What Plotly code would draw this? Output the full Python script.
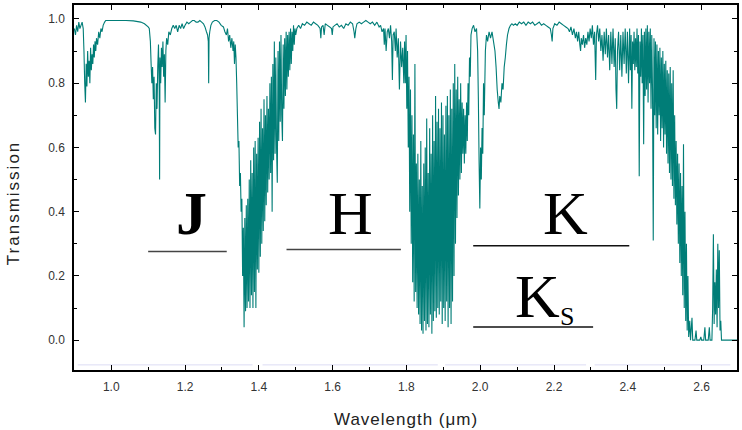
import plotly.graph_objects as go

# ---------------- data ----------------
# atmospheric transmission: (wavelength in micron, transmission) per spectral region
seg_093 = [(0.900,0.97),(0.903,0.95),(0.906,0.98),(0.909,0.96),(0.912,0.99),(0.915,0.97),(0.918,0.98),
           (0.921,0.99),(0.924,0.97),(0.926,0.90),(0.928,0.80),(0.930,0.74),(0.932,0.86),(0.934,0.79),
           (0.936,0.90),(0.938,0.82),(0.940,0.87),(0.942,0.80),(0.944,0.91),(0.946,0.84),(0.948,0.89),
           (0.950,0.86),(0.952,0.92),(0.954,0.88),(0.956,0.93),(0.958,0.90),(0.960,0.94),(0.963,0.92),
           (0.966,0.96),(0.969,0.94),(0.972,0.97),(0.975,0.96),(0.978,0.98),(0.982,0.99),(0.985,0.995)]

seg_y = [(0.990,0.995),(1.000,0.995),(1.020,0.995),(1.040,0.995),(1.060,0.994),(1.080,0.99),
         (1.090,0.985),(1.100,0.975)]

seg_113 = [(1.103,0.97),(1.106,0.93),(1.108,0.86),(1.110,0.80),(1.112,0.85),(1.114,0.75),(1.116,0.82),
           (1.118,0.66),(1.120,0.64),(1.122,0.80),(1.124,0.72),(1.126,0.85),(1.128,0.92),(1.130,0.78),
           (1.131,0.50),(1.132,0.88),(1.134,0.80),(1.136,0.91),(1.138,0.85),(1.140,0.93),(1.142,0.82),
           (1.144,0.89),(1.146,0.74),(1.148,0.90),(1.150,0.94),(1.153,0.92),(1.156,0.96),(1.160,0.95),
           (1.164,0.97),(1.168,0.98)]

seg_j = [(1.172,0.97),(1.176,0.98),(1.180,0.96),(1.184,0.98),(1.188,0.97),(1.192,0.985),(1.196,0.97),
         (1.200,0.98),(1.205,0.99),(1.210,0.985),(1.215,0.99),(1.220,0.995),(1.225,0.995),(1.230,0.99),
         (1.235,0.99),(1.240,0.995),(1.245,0.99),(1.250,0.985),(1.254,0.975),(1.258,0.96),(1.261,0.95),
         (1.263,0.93),(1.264,0.80),(1.265,0.94),(1.267,0.96),(1.270,0.98),(1.274,0.99),(1.280,0.995),
         (1.286,0.995),(1.292,0.99),(1.298,0.98),(1.304,0.975),(1.308,0.96),(1.312,0.95),(1.315,0.97),
         (1.318,0.93),(1.321,0.95),(1.324,0.91),(1.327,0.94),(1.330,0.90),(1.332,0.93),(1.334,0.86),
         (1.336,0.92),(1.338,0.88),(1.340,0.80)]

seg_14 = [(1.342,0.70),(1.344,0.60),(1.346,0.62),(1.348,0.48),(1.350,0.52),(1.352,0.40),(1.354,0.44),
          (1.356,0.20),(1.358,0.35),(1.360,0.04),(1.362,0.38),(1.364,0.09),(1.366,0.42),(1.368,0.10),
          (1.370,0.44),(1.372,0.12),(1.374,0.50),(1.376,0.10),(1.378,0.56),(1.380,0.14),(1.382,0.52),
          (1.384,0.10),(1.386,0.60),(1.388,0.15),(1.390,0.62),(1.392,0.10),(1.394,0.58),(1.396,0.22),
          (1.398,0.63),(1.400,0.21),(1.402,0.68),(1.404,0.26),(1.406,0.72),(1.408,0.30),(1.410,0.66),
          (1.412,0.34),(1.414,0.75),(1.416,0.37),(1.418,0.70),(1.420,0.42),(1.422,0.76),(1.424,0.46),
          (1.426,0.72),(1.428,0.50),(1.430,0.80),(1.432,0.52),(1.434,0.82),(1.436,0.40),(1.438,0.86),
          (1.440,0.56),(1.442,0.93),(1.444,0.58),(1.446,0.88),(1.448,0.60),(1.450,0.49),(1.452,0.90),
          (1.454,0.62),(1.456,0.93),(1.458,0.68),(1.460,0.95),(1.462,0.70),(1.464,0.62),(1.466,0.92),
          (1.468,0.72),(1.470,0.94),(1.472,0.76),(1.474,0.96),(1.476,0.78),(1.478,0.95),(1.480,0.82),
          (1.482,0.96),(1.484,0.84),(1.486,0.97),(1.488,0.86),(1.490,0.96),(1.492,0.90),(1.494,0.98),
          (1.496,0.92),(1.498,0.97),(1.500,0.95)]

seg_h = [(1.503,0.97),(1.508,0.98),(1.513,0.97),(1.518,0.985),(1.524,0.98),(1.530,0.99),(1.536,0.985),
         (1.542,0.98),(1.548,0.99),(1.554,0.985),(1.560,0.98),(1.566,0.97),(1.568,0.94),(1.570,0.975),
         (1.574,0.98),(1.577,0.95),(1.580,0.985),(1.586,0.98),(1.592,0.975),(1.597,0.97),(1.599,0.95),
         (1.601,0.975),(1.606,0.98),(1.612,0.985),(1.618,0.975),(1.624,0.98),(1.630,0.97),(1.636,0.985),
         (1.642,0.98),(1.648,0.99),(1.654,0.985),(1.658,0.96),(1.660,0.94),(1.663,0.97),(1.666,0.985),
         (1.672,0.99),(1.678,0.985),(1.684,0.99),(1.690,0.995),(1.696,0.99),(1.702,0.985),(1.708,0.99),
         (1.714,0.98),(1.720,0.99),(1.726,0.975),(1.730,0.98),(1.734,0.96),(1.738,0.97),(1.740,0.92),
         (1.742,0.97),(1.745,0.90),(1.748,0.96),(1.751,0.97),(1.754,0.94),(1.757,0.98),(1.760,0.93),
         (1.762,0.81),(1.764,0.95),(1.767,0.96),(1.770,0.90),(1.772,0.97),(1.775,0.88),(1.778,0.94),
         (1.781,0.78),(1.784,0.93),(1.787,0.85),(1.790,0.91),(1.793,0.80)]

seg_185 = [(1.795,0.93),(1.797,0.80),(1.799,0.95),(1.801,0.72),(1.803,0.90),(1.805,0.60),(1.807,0.82),
           (1.809,0.40),(1.811,0.78),(1.813,0.30),(1.815,0.70),(1.817,0.18),(1.819,0.64),(1.821,0.12),
           (1.823,0.86),(1.825,0.15),(1.827,0.55),(1.829,0.10),(1.831,0.58),(1.833,0.08),(1.835,0.50),
           (1.837,0.05),(1.839,0.62),(1.841,0.03),(1.843,0.48),(1.845,0.02),(1.847,0.55),(1.849,0.06),
           (1.851,0.60),(1.853,0.03),(1.855,0.69),(1.857,0.05),(1.859,0.52),(1.861,0.04),(1.863,0.66),
           (1.865,0.08),(1.867,0.58),(1.869,0.02),(1.871,0.70),(1.873,0.06),(1.875,0.62),(1.877,0.09),
           (1.879,0.76),(1.881,0.07),(1.883,0.68),(1.885,0.10),(1.887,0.72),(1.889,0.08),(1.891,0.66),
           (1.893,0.12),(1.895,0.74),(1.897,0.05),(1.899,0.70),(1.901,0.10),(1.903,0.64),(1.905,0.06),
           (1.907,0.73),(1.909,0.12),(1.911,0.76),(1.913,0.04),(1.915,0.70),(1.917,0.10),(1.919,0.78),
           (1.921,0.05),(1.923,0.72),(1.925,0.12),(1.927,0.80),(1.929,0.20),(1.931,0.86),(1.933,0.30),
           (1.935,0.78),(1.937,0.38),(1.939,0.82),(1.941,0.45),(1.943,0.75),(1.945,0.50),(1.947,0.80),
           (1.949,0.52),(1.951,0.74),(1.953,0.58),(1.955,0.72),(1.957,0.55),(1.959,0.70),(1.961,0.58),
           (1.963,0.74),(1.965,0.62),(1.967,0.80),(1.969,0.70),(1.971,0.88),(1.973,0.82),(1.975,0.95)]

seg_20 = [(1.978,0.97),(1.982,0.98),(1.986,0.96),(1.990,0.97),(1.993,0.90),(1.995,0.75),(1.997,0.55),
          (1.999,0.41),(2.001,0.60),(2.003,0.50),(2.005,0.66),(2.007,0.58),(2.009,0.80),(2.011,0.70),
          (2.014,0.90),(2.017,0.95),(2.020,0.93),(2.024,0.96),(2.028,0.94),(2.032,0.96),(2.036,0.93),
          (2.040,0.90),(2.043,0.85),(2.046,0.78),(2.049,0.74),(2.051,0.72),(2.053,0.76),(2.056,0.74),
          (2.059,0.80),(2.062,0.78),(2.065,0.85),(2.068,0.88),(2.071,0.92),(2.074,0.95),(2.078,0.97),
          (2.082,0.98),(2.086,0.985),(2.090,0.98)]

seg_k = [(2.095,0.985),(2.100,0.98),(2.106,0.99),(2.112,0.985),(2.118,0.99),(2.124,0.98),(2.130,0.99),
         (2.136,0.985),(2.142,0.99),(2.148,0.98),(2.154,0.985),(2.160,0.99),(2.166,0.98),(2.172,0.985),
         (2.178,0.98),(2.184,0.975),(2.190,0.97),(2.193,0.95),(2.195,0.93),(2.197,0.97),(2.202,0.985),
         (2.208,0.98),(2.214,0.99),(2.220,0.985),(2.226,0.98),(2.232,0.975),(2.238,0.97),(2.242,0.96),
         (2.246,0.975),(2.250,0.95),(2.254,0.97),(2.258,0.94),(2.261,0.96),(2.264,0.93),(2.267,0.96),
         (2.270,0.92),(2.272,0.90),(2.274,0.94),(2.277,0.92),(2.280,0.95),(2.283,0.91),(2.286,0.94),
         (2.289,0.92),(2.292,0.96),(2.295,0.93),(2.298,0.97),(2.301,0.94),(2.304,0.98),(2.307,0.92),
         (2.310,0.96),(2.313,0.81),(2.315,0.95),(2.318,0.98),(2.321,0.93),(2.324,0.97),(2.327,0.90),
         (2.330,0.95),(2.333,0.87),(2.336,0.96),(2.339,0.89),(2.342,0.97),(2.345,0.88),(2.348,0.95),
         (2.351,0.84),(2.354,0.96),(2.357,0.86),(2.360,0.97),(2.363,0.85),(2.366,0.94),(2.368,0.78),
         (2.370,0.72),(2.372,0.90),(2.375,0.96),(2.378,0.84),(2.381,0.95),(2.384,0.82),(2.387,0.96),
         (2.390,0.86),(2.393,0.97),(2.396,0.83),(2.399,0.96),(2.402,0.80),(2.405,0.97)]

seg_25 = [(2.407,0.84),(2.409,0.95),(2.411,0.72),(2.413,0.93),(2.415,0.86),(2.417,0.96),(2.419,0.84),
          (2.421,0.94),(2.423,0.85),(2.425,0.97),(2.427,0.83),(2.429,0.95),(2.431,0.51),(2.433,0.93),
          (2.435,0.82),(2.437,0.97),(2.439,0.80),(2.441,0.95),(2.443,0.61),(2.445,0.96),(2.447,0.76),
          (2.449,0.97),(2.451,0.78),(2.453,0.98),(2.455,0.74),(2.457,0.96),(2.459,0.80),(2.461,0.97),
          (2.463,0.72),(2.465,0.95),(2.467,0.78),(2.469,0.31),(2.471,0.94),(2.473,0.70),(2.475,0.93),
          (2.477,0.66),(2.479,0.92),(2.481,0.64),(2.483,0.90),(2.485,0.70),(2.487,0.91),(2.489,0.62),
          (2.491,0.88),(2.493,0.66),(2.495,0.90),(2.497,0.60),(2.499,0.86),(2.501,0.64),(2.503,0.87),
          (2.505,0.58),(2.507,0.84),(2.509,0.55),(2.511,0.83),(2.513,0.52),(2.515,0.85),(2.517,0.50),
          (2.519,0.80),(2.521,0.48),(2.523,0.84),(2.525,0.44),(2.527,0.70),(2.529,0.42),(2.531,0.62),
          (2.533,0.36),(2.535,0.58),(2.537,0.30),(2.539,0.55),(2.541,0.24),(2.543,0.52),(2.545,0.20),
          (2.547,0.48),(2.549,0.14),(2.551,0.61),(2.553,0.10),(2.555,0.40),(2.557,0.06),(2.559,0.30),
          (2.561,0.03),(2.563,0.20),(2.565,0.01),(2.568,0.06),(2.570,0.00),(2.574,0.07),(2.576,0.00),
          (2.582,0.00),(2.585,0.03),(2.587,0.00),(2.595,0.00),(2.598,0.01),(2.600,0.00),(2.606,0.00),
          (2.609,0.04),(2.611,0.00),(2.618,0.00),(2.621,0.04),(2.623,0.00),(2.628,0.00),(2.630,0.10),
          (2.632,0.33),(2.634,0.05),(2.636,0.18),(2.638,0.08),(2.640,0.22),(2.642,0.04),(2.644,0.30),
          (2.646,0.10),(2.648,0.28),(2.650,0.03),(2.652,0.06),(2.654,0.00),(2.700,0.00)]

# photometric bands: name, start, end (micron) and the level of the marker line
band_names = ["J", "H", "K", "Ks"]
band_start = [1.100, 1.475, 1.981, 1.981]
band_end = [1.313, 1.785, 2.404, 2.306]
band_level = [0.276, 0.282, 0.294, 0.041]

x_ticks = [1.0, 1.2, 1.4, 1.6, 1.8, 2.0, 2.2, 2.4, 2.6]
y_ticks = [0.0, 0.2, 0.4, 0.6, 0.8, 1.0]

# ---------------- figure ----------------
segments = [seg_093, seg_y, seg_113, seg_j, seg_14, seg_h, seg_185, seg_20, seg_k, seg_25]
wavelength, transmission = [], []
for seg in segments:
    for w, t in seg:
        wavelength.append(w)
        transmission.append(t)

fig = go.Figure()

# faint reference line near the bottom of the frame
faint = [(0.909, 1.383), (1.410, 1.885), (1.905, 2.287), (2.310, 2.678)]
for a, b in faint:
    fig.add_shape(type="line", x0=a, x1=b, y0=-0.077, y1=-0.077, xref="x", yref="y",
                  line=dict(color="#dcdcf4", width=1), layer="below")

fig.add_trace(go.Scatter(x=wavelength, y=transmission, mode="lines",
                         line=dict(color="#007d77", width=1.1, simplify=False),
                         hoverinfo="skip", showlegend=False))

band_colors = ["#444444", "#444444", "#111111", "#111111"]
for name, a, b, lev, c in zip(band_names, band_start, band_end, band_level, band_colors):
    fig.add_shape(type="line", x0=a, x1=b, y0=lev, y1=lev, xref="x", yref="y",
                  line=dict(color=c, width=1.4))

serif = "Liberation Serif, Times New Roman, serif"
fig.add_annotation(x=1.217, y=0.396, text="<b>J</b>", showarrow=False, xanchor="center",
                   yanchor="middle", font=dict(family=serif, size=62, color="black"))
fig.add_annotation(x=1.648, y=0.396, text="H", showarrow=False, xanchor="center",
                   yanchor="middle", font=dict(family=serif, size=62, color="black"))
fig.add_annotation(x=2.232, y=0.396, text="K", showarrow=False, xanchor="center",
                   yanchor="middle", font=dict(family=serif, size=62, color="black"))
fig.add_annotation(x=2.156, y=0.136, text="K", showarrow=False, xanchor="center",
                   yanchor="middle", font=dict(family=serif, size=62, color="black"))
fig.add_annotation(x=2.235, y=0.074, text="S", showarrow=False, xanchor="center",
                   yanchor="middle", font=dict(family=serif, size=26, color="black"))

sans = "Liberation Sans, Arial, sans-serif"
fig.add_annotation(xref="paper", yref="paper", x=0.5, y=-0.136, xanchor="center", yanchor="middle",
                   text='<span style="letter-spacing:1px">Wavelength (μm)</span>', showarrow=False,
                   font=dict(family=sans, size=17, color="#222222"))
fig.add_annotation(xref="paper", yref="paper", x=-0.090, y=0.458, xanchor="center", yanchor="middle",
                   text='<span style="letter-spacing:2px">Transmission</span>', showarrow=False,
                   textangle=-90, font=dict(family=sans, size=17, color="#222222"))

axis_common = dict(showline=True, linecolor="black", linewidth=1.5, mirror="ticks",
                   ticks="inside", ticklen=5, tickwidth=1, tickcolor="black",
                   showgrid=False, zeroline=False, tickformat=".1f",
                   tickfont=dict(family=sans, size=12, color="#333333"),
                   ticklabelstandoff=5)

fig.update_xaxes(range=[0.899, 2.696], tickvals=x_ticks,
                 minor=dict(dtick=0.1, tick0=0.9, ticks="inside", ticklen=3, tickcolor="black",
                            showgrid=False),
                 **axis_common)
fig.update_yaxes(range=[-0.0929, 1.0433], tickvals=y_ticks,
                 minor=dict(dtick=0.1, tick0=0.0, ticks="inside", ticklen=3, tickcolor="black",
                            showgrid=False),
                 **axis_common)

fig.update_layout(width=742, height=430, margin=dict(l=74, r=4, t=3, b=60),
                  plot_bgcolor="white", paper_bgcolor="white", showlegend=False)

fig.write_html("out.html", config={"displayModeBar": False},
               post_script="document.body.style.margin='0';document.body.style.padding='0';")
